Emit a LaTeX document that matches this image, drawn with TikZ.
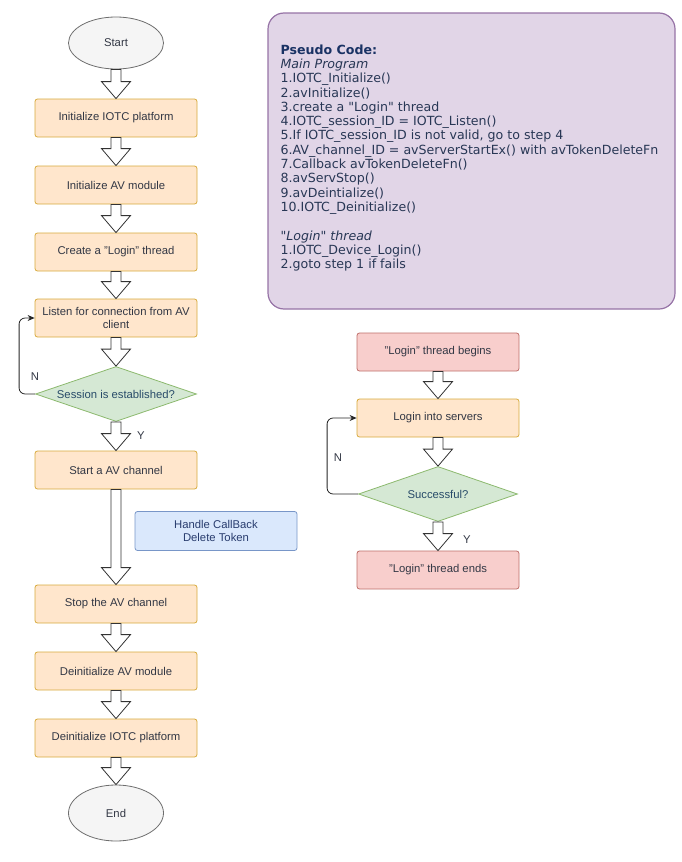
\documentclass[tikz,border=0pt]{standalone}
\usepackage{fontspec}
\setmainfont{Liberation Sans}
\newfontfamily\codefont{DejaVu Sans}
\usepackage{tikz}
\usetikzlibrary{shapes, arrows.meta, positioning, calc}
\definecolor{procfill}{RGB}{255, 230, 204}
\definecolor{procline}{RGB}{215, 170, 60}
\definecolor{termfill}{RGB}{245, 245, 245}
\definecolor{termline}{RGB}{110, 110, 110}
\definecolor{decfill}{RGB}{213, 232, 212}
\definecolor{decline}{RGB}{140, 185, 110}
\definecolor{redfill}{RGB}{248, 206, 204}
\definecolor{redline}{RGB}{190, 110, 105}
\definecolor{bluefill}{RGB}{218, 232, 252}
\definecolor{blueline}{RGB}{120, 150, 200}
\definecolor{codefill}{RGB}{225, 213, 231}
\definecolor{codeline}{RGB}{150, 115, 166}
\definecolor{flowtext}{RGB}{50, 55, 68}
\definecolor{dectext}{RGB}{40, 75, 105}
\definecolor{bluetext}{RGB}{40, 60, 110}
\definecolor{codehead}{RGB}{25, 50, 100}
\definecolor{codetext}{RGB}{40, 55, 85}

% block arrow from the bottom of one node to the top of the next
\newcommand{\flowarrow}[2]{%
  \draw[blockarrow] let \p1 = (#1.south), \p2 = (#2.north) in
    (\x1-5pt,\y1) -- (\x1-5pt,\y2+17pt) -- (\x1-14.5pt,\y2+17pt) -- (\x1,\y2)
    -- (\x1+14.5pt,\y2+17pt) -- (\x1+5pt,\y2+17pt) -- (\x1+5pt,\y1) -- cycle;}

\begin{document}
\begin{tikzpicture}[x=1pt, y=-1pt,
    flowfont/.style={font=\fontsize{11.3}{13.5}\selectfont},
    procbox/.style={rectangle, rounded corners=2.5pt, draw=procline, fill=procfill, line width=0.8pt,
      minimum width=162pt, minimum height=38pt, align=center, text=flowtext, flowfont},
    redbox/.style={procbox, draw=redline, fill=redfill},
    bluebox/.style={procbox, draw=blueline, fill=bluefill, text=bluetext, minimum height=39pt},
    termnode/.style={ellipse, draw=termline, fill=termfill, line width=0.8pt,
      minimum width=95pt, text=flowtext, flowfont},
    decnode/.style={diamond, draw=decline, fill=decfill, line width=0.8pt, inner sep=0pt,
      aspect=2.9, minimum width=161pt, minimum height=55pt, text=dectext, flowfont},
    yn/.style={text=flowtext, flowfont},
    blockarrow/.style={draw=black!80, fill=white, line width=0.8pt, line join=miter},
    loopline/.style={draw=black!85, line width=0.8pt, rounded corners=6pt,
      -{Stealth[length=7pt, width=6pt]}},
    codebox/.style={rectangle, rounded corners=16pt, draw=codeline, fill=codefill, line width=1.2pt,
      minimum width=407pt, minimum height=296pt},
    codetxt/.style={inner sep=0pt, align=left, text=codetext,
      font=\codefont\fontsize{12.6}{14.3}\selectfont}]
    \useasboundingbox (0,0) rectangle (681,862);

    % Main program
    \node[termnode, minimum height=52pt] (start) at (116,43) {Start};
    \node[procbox] (init) at (116,118) {Initialize IOTC platform};
    \node[procbox] (avinit) at (116,185) {Initialize AV module};
    \node[procbox] (mkthread) at (116,252) {Create a "Login" thread};
    \node[procbox] (listen) at (116,318) {Listen for connection from AV\\client};
    \node[decnode] (session) at (116,394) {Session is established?};
    \node[procbox] (chan) at (116,470) {Start a AV channel};
    \node[bluebox] (callback) at (216,531) {Handle CallBack\\Delete Token};
    \node[procbox] (stop) at (116,604) {Stop the AV channel};
    \node[procbox] (avdeinit) at (116,671) {Deinitialize AV module};
    \node[procbox] (iotcdeinit) at (116,738) {Deinitialize IOTC platform};
    \node[termnode, minimum height=56pt] (end) at (116,813) {End};

    \flowarrow{start}{init}
    \flowarrow{init}{avinit}
    \flowarrow{avinit}{mkthread}
    \flowarrow{mkthread}{listen}
    \flowarrow{listen}{session}
    \flowarrow{session}{chan}
    \flowarrow{chan}{stop}
    \flowarrow{stop}{avdeinit}
    \flowarrow{avdeinit}{iotcdeinit}
    \flowarrow{iotcdeinit}{end}

    \draw[loopline] (session.west) -- ++(-16,0) |- (listen.west);
    \node[yn] (sessno) at (35,377) {N};
    \node[yn] (sessyes) at (141,436) {Y};

    % Login thread
    \node[redbox] (begins) at (438,352) {"Login" thread begins};
    \node[procbox] (login) at (438,418) {Login into servers};
    \node[decnode, minimum width=159pt] (success) at (438,494) {Successful?};
    \node[redbox] (ends) at (438,570) {"Login" thread ends};

    \flowarrow{begins}{login}
    \flowarrow{login}{success}
    \flowarrow{success}{ends}

    \draw[loopline] (success.west) -- ++(-31,0) |- (login.west);
    \node[yn] (succno) at (338,458) {N};
    \node[yn] (succyes) at (467,540) {Y};

    % Pseudo code
    \node[codebox] (code) at (471.5,161) {};
    \node[codetxt, anchor=north west] (codelist) at ([xshift=13pt, yshift=-32pt]code.north west) {%
      {\color{codehead}\bfseries Pseudo Code:}\\
      \textit{Main Program}\\
      1.IOTC\_Initialize()\\
      2.avInitialize()\\
      3.create a "Login" thread\\
      4.IOTC\_session\_ID = IOTC\_Listen()\\
      5.If IOTC\_session\_ID is not valid, go to step 4\\
      6.AV\_channel\_ID = avServerStartEx() with avTokenDeleteFn\\
      7.Callback avTokenDeleteFn()\\
      8.avServStop()\\
      9.avDeintialize()\\
      10.IOTC\_Deinitialize()\\[14.3pt]
      \textit{"Login" thread}\\
      1.IOTC\_Device\_Login()\\
      2.goto step 1 if fails};

\end{tikzpicture}
\end{document}
